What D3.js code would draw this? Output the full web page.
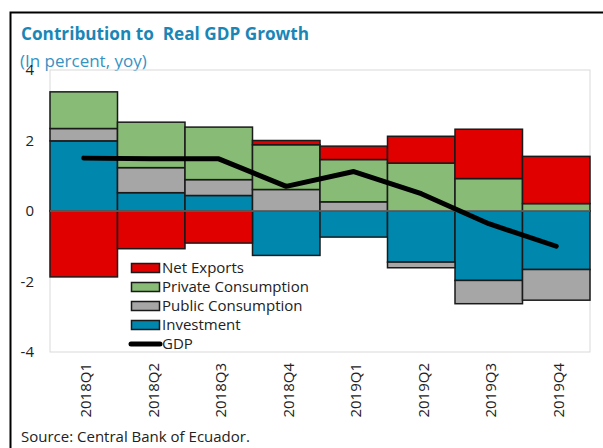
<!DOCTYPE html>
<html><head><meta charset="utf-8">
<script src="https://cdn.jsdelivr.net/npm/d3@7"></script>
<style>body{margin:0;background:#fff}svg{display:block;font-family:"Open Sans","Noto Sans",sans-serif}text{white-space:pre}</style>
</head><body>
<svg id="c" width="603" height="448"></svg>
<script>
const categories = ["2018Q1","2018Q2","2018Q3","2018Q4","2019Q1","2019Q2","2019Q3","2019Q4"];
const investment = [1.99, 0.52, 0.44, -1.26, -0.74, -1.45, -1.97, -1.66];
const publicCons = [0.35, 0.71, 0.45, 0.61, 0.26, -0.16, -0.66, -0.87];
const privateCons = [1.04, 1.29, 1.49, 1.27, 1.20, 1.36, 0.92, 0.21];
const netExports = [-1.87, -1.07, -0.91, 0.12, 0.38, 0.76, 1.40, 1.34];
const gdp = [1.50, 1.48, 1.48, 0.70, 1.12, 0.49, -0.36, -1.00];
const yTicks = [-4, -2, 0, 2, 4];

const seriesKeys = ["Investment","Public Consumption","Private Consumption","Net Exports"];
const seriesVals = [investment, publicCons, privateCons, netExports];
const colors = {"Net Exports":"#e00000","Private Consumption":"#88bb75","Public Consumption":"#a6a6a6","Investment":"#0087ae"};
const legendOrder = ["Net Exports","Private Consumption","Public Consumption","Investment"];

const table = categories.map((c,i)=>{const o={cat:c};seriesKeys.forEach((k,j)=>o[k]=seriesVals[j][i]);return o;});

const svg = d3.select("#c");
const L=50,R=590,T=70,B=352;
const x = d3.scaleBand().domain(categories).range([L,R]).padding(0);
const y = d3.scaleLinear().domain([-4,4]).range([B,T]);

// outer frame
svg.append("path").attr("d",`M10.5,${448}V12.5H603`).attr("fill","none").attr("stroke","#000").attr("stroke-width",2);

// title
svg.append("text").attr("x",21).attr("y",40).attr("font-size",17.2).attr("font-weight","bold").attr("fill","#1a86b6").text("Contribution to  Real GDP Growth");
svg.append("text").attr("x",20).attr("y",67).attr("font-size",17).attr("fill","#3593c4").text("(In percent, yoy)");

// plot area border
svg.append("rect").attr("x",L).attr("y",T).attr("width",R-L).attr("height",B-T).attr("fill","none").attr("stroke","#d9d9d9").attr("stroke-width",1);

const stack = d3.stack().keys(seriesKeys).offset(d3.stackOffsetDiverging);
const stacked = stack(table);

svg.append("g").selectAll("g").data(stacked).join("g").attr("fill",d=>colors[d.key])
 .selectAll("rect").data(d=>d).join("rect")
 .attr("x",d=>x(d.data.cat)).attr("width",x.bandwidth())
 .attr("y",d=>y(Math.max(d[0],d[1]))).attr("height",d=>Math.abs(y(d[0])-y(d[1])))
 .attr("stroke","#1a1a1a").attr("stroke-width",1.5);

// zero line
svg.append("line").attr("x1",L).attr("x2",R).attr("y1",y(0)).attr("y2",y(0)).attr("stroke","#8c8c8c").attr("stroke-width",1);

// gdp line
const line = d3.line().x((d,i)=>x(categories[i])+x.bandwidth()/2).y(d=>y(d));
svg.append("path").datum(gdp).attr("d",line).attr("fill","none").attr("stroke","#000").attr("stroke-width",5).attr("stroke-linecap","round").attr("stroke-linejoin","round");

// y axis
const yAxis = d3.axisLeft(y).tickValues(yTicks).tickSize(0).tickPadding(0).tickFormat(d=>String(d));
const gy = svg.append("g").attr("transform","translate(34,0)").call(yAxis);
gy.select(".domain").remove();
gy.selectAll("text").attr("font-size",15).attr("fill","#222").attr("font-family","'Open Sans','Noto Sans',sans-serif");

// x axis
const xAxis = d3.axisBottom(x).tickSize(0).tickPadding(0);
const gx = svg.append("g").attr("transform",`translate(0,${B})`).call(xAxis);
gx.select(".domain").remove();
gx.selectAll("text").attr("font-size",15).attr("fill","#222").attr("font-family","'Open Sans','Noto Sans',sans-serif")
 .attr("transform","rotate(-90)").attr("text-anchor","end").attr("dy","0.35em").attr("x",-11).attr("y",2);

// legend
const lg = svg.append("g");
legendOrder.forEach((k,i)=>{
  const cy = 268 + i*19;
  lg.append("rect").attr("x",131.5).attr("y",cy-4.5).attr("width",28).attr("height",9).attr("fill",colors[k]).attr("stroke","#1a1a1a").attr("stroke-width",1.5);
  lg.append("text").attr("x",162).attr("y",cy).attr("dy","0.35em").attr("font-size",15).attr("fill","#222").text(k);
});
const gcy = 268+4*19;
lg.append("line").attr("x1",131).attr("x2",160).attr("y1",gcy).attr("y2",gcy).attr("stroke","#000").attr("stroke-width",5).attr("stroke-linecap","round");
lg.append("text").attr("x",162).attr("y",gcy).attr("dy","0.35em").attr("font-size",15).attr("fill","#222").text("GDP");

// source
svg.append("text").attr("x",21).attr("y",442).attr("font-size",15).attr("fill","#222").text("Source: Central Bank of Ecuador.");
</script>
</body></html>
